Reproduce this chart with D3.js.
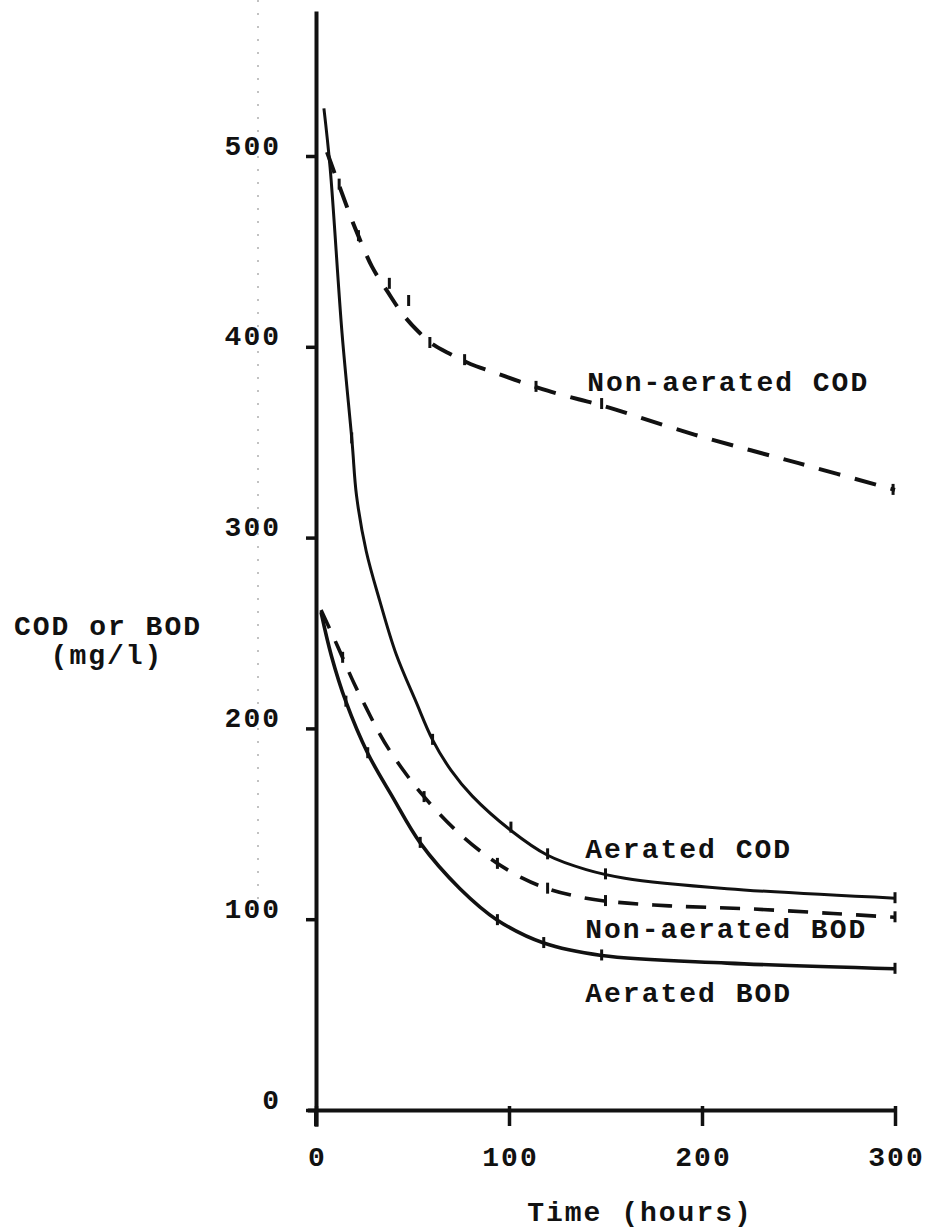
<!DOCTYPE html>
<html>
<head>
<meta charset="utf-8">
<script src="https://cdn.jsdelivr.net/npm/d3@7"></script>
<style>
  html, body { margin: 0; padding: 0; background: #fff; }
  svg { display: block; }
  text {
    font-family: "Liberation Mono", "DejaVu Sans Mono", monospace;
    font-weight: bold;
    font-size: 28px;
    letter-spacing: 2px;
    fill: #111;
  }
</style>
</head>
<body>
<svg id="chart" width="931" height="1231"></svg>
<script>
// Axis ticks
const hourTicks = [0, 100, 200, 300];
const concTicks = [0, 100, 200, 300, 400, 500];

// Non-aerated COD (dashed): fitted curve and measured points
const nonAerCodHours  = [5.7, 10, 14, 18, 22, 29, 37, 45, 53, 61, 70, 80, 91, 105, 120, 136, 149, 196, 250, 300];
const nonAerCodValues = [502, 490, 479, 468, 458, 442, 429, 417, 408, 401, 396, 391, 387, 382, 377, 372.5, 369, 354, 339, 325];
const nonAerCodPtHours  = [12, 22, 38, 48, 59, 77, 114, 148, 299];
const nonAerCodPtValues = [485, 458, 433, 424, 402, 393, 379, 370, 325];

// Aerated COD (solid)
const aerCodHours  = [4.1, 7.3, 13.5, 18.7, 21, 26, 33, 41.5, 51.8, 60.4, 70, 81, 101, 120, 140, 160, 213, 300];
const aerCodValues = [525, 494, 407, 350, 322, 293, 267, 239, 214, 194, 178, 164.5, 146.5, 133.5, 126, 121.5, 116, 111];
const aerCodPtHours  = [18.5, 60.4, 101, 120, 150, 300];
const aerCodPtValues = [352, 194, 148, 134, 123.5, 111];

// Non-aerated BOD (dashed)
const nonAerBodHours  = [2.6, 9, 13.8, 20, 25.9, 32, 37.8, 46, 55.3, 71, 90, 107, 120, 135, 150, 183, 223, 268, 300];
const nonAerBodValues = [262, 248, 237, 223, 211, 199, 189, 177, 165, 148, 132, 121.5, 116, 112, 109.5, 107, 105.5, 103, 101];
const nonAerBodPtHours  = [13.8, 56, 94, 120, 150, 300];
const nonAerBodPtValues = [237, 164, 129, 116, 109.5, 101];

// Aerated BOD (solid)
const aerBodHours  = [2.6, 8, 15.5, 26.8, 39.7, 54, 74.6, 94, 118, 148, 213, 300];
const aerBodValues = [261, 238, 214, 187, 164, 140, 116, 99.5, 87.5, 81, 77, 74];
const aerBodPtHours  = [15.5, 26.8, 54, 94, 118, 148, 300];
const aerBodPtValues = [214, 187, 140, 99.5, 87.5, 81, 74];

const seriesNames = ["Non-aerated COD", "Aerated COD", "Non-aerated BOD", "Aerated BOD"];

const svg = d3.select("#chart");

// Scales: time in hours, concentration in mg/l
const x = d3.scaleLinear().domain([0, 300]).range([316, 895]);
const y = d3.scaleLinear().domain([0, 500]).range([1110, 156]);

// Axis spines run a little past the first/last ticks
const xAxisScale = x.copy().domain([-4.5, 300]).range([x(-4.5), x(300)]);
const yAxisScale = y.copy().domain([-8.5, 576]).range([y(-8.5), y(576)]);

// faint ruled line on the sheet, left of the value labels
svg.append("line")
  .attr("x1", 258).attr("x2", 258).attr("y1", 0).attr("y2", 900)
  .attr("stroke", "#9a9a9a").attr("stroke-width", 1.2)
  .attr("stroke-dasharray", "2,11");

// Y axis
const gy = svg.append("g")
  .attr("transform", `translate(${x(0)},0)`)
  .call(d3.axisLeft(yAxisScale).tickValues(concTicks).tickFormat(d3.format("d"))
        .tickSize(10).tickSizeOuter(0).tickPadding(25));
gy.select(".domain").attr("stroke", "#111").attr("stroke-width", 4);
gy.selectAll(".tick line").attr("stroke", "#111").attr("stroke-width", 3.5);
gy.selectAll(".tick text").attr("dy", -2).attr("font-size", null).attr("font-family", null);

// X axis
const gx = svg.append("g")
  .attr("transform", `translate(0,${y(0)})`)
  .call(d3.axisBottom(xAxisScale).tickValues(hourTicks).tickFormat(d3.format("d"))
        .tickSize(16).tickSizeOuter(0));
gx.select(".domain").attr("stroke", "#111").attr("stroke-width", 4);
gx.selectAll(".tick line").attr("stroke", "#111").attr("stroke-width", 3.5).attr("y1", -4).attr("y2", 16);
gx.selectAll(".tick text").attr("y", 56).attr("dy", 0).attr("dx", 1).attr("font-size", null).attr("font-family", null);
// y axis extends below the time axis
svg.append("line")
  .attr("x1", x(0)).attr("x2", x(0)).attr("y1", y(0)).attr("y2", y(0) + 16)
  .attr("stroke", "#111").attr("stroke-width", 4);

// Axis titles
svg.append("text").attr("x", 108).attr("y", 635).attr("text-anchor", "middle").text("COD or BOD");
svg.append("text").attr("x", 107).attr("y", 664).attr("text-anchor", "middle").text("(mg/l)");
svg.append("text").attr("x", 640).attr("y", 1221).attr("text-anchor", "middle").text("Time (hours)");

// Series
const series = [
  { name: seriesNames[0], h: nonAerCodHours, v: nonAerCodValues, ph: nonAerCodPtHours, pv: nonAerCodPtValues,
    width: 4, dash: "22,15", label: [140.5, 377] },
  { name: seriesNames[1], h: aerCodHours, v: aerCodValues, ph: aerCodPtHours, pv: aerCodPtValues,
    width: 3, dash: null, label: [139.5, 132] },
  { name: seriesNames[2], h: nonAerBodHours, v: nonAerBodValues, ph: nonAerBodPtHours, pv: nonAerBodPtValues,
    width: 3.6, dash: "20,14", label: [139.5, 90] },
  { name: seriesNames[3], h: aerBodHours, v: aerBodValues, ph: aerBodPtHours, pv: aerBodPtValues,
    width: 3.6, dash: null, label: [139.5, 56.5] }
];

const line = d3.line()
  .x(d => x(d[0]))
  .y(d => y(d[1]))
  .curve(d3.curveCatmullRom.alpha(0.5));

series.forEach(s => {
  const pts = s.h.map((h, i) => [h, s.v[i]]);
  svg.append("path")
    .datum(pts)
    .attr("d", line)
    .attr("fill", "none")
    .attr("stroke", "#111")
    .attr("stroke-width", s.width)
    .attr("stroke-dasharray", s.dash)
    .attr("stroke-linecap", "butt");

  // measured points: short cross ticks on the curve
  const marks = s.ph.map((h, i) => [h, s.pv[i]]);
  svg.append("g").selectAll("line")
    .data(marks)
    .join("line")
    .attr("x1", d => x(d[0]))
    .attr("x2", d => x(d[0]))
    .attr("y1", d => y(d[1]) - 6)
    .attr("y2", d => y(d[1]) + 5)
    .attr("stroke", "#111")
    .attr("stroke-width", 3);

  svg.append("text")
    .attr("x", x(s.label[0]))
    .attr("y", y(s.label[1]))
    .text(s.name);
});
</script>
</body>
</html>
